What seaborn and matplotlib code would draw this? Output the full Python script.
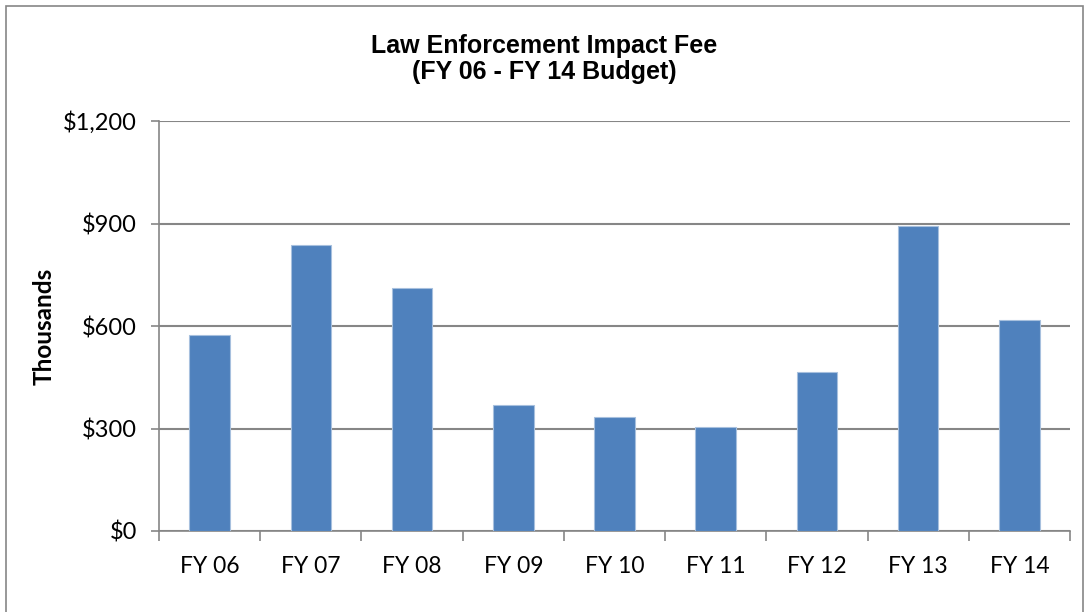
import numpy as np
import pandas as pd
import matplotlib.pyplot as plt
import seaborn as sns
from matplotlib.ticker import FixedLocator, FuncFormatter
from matplotlib.patches import Rectangle

years = ["FY 06", "FY 07", "FY 08", "FY 09", "FY 10", "FY 11", "FY 12", "FY 13", "FY 14"]
fees = [574, 837, 710, 369, 333, 304, 465, 893, 617]
y_ticks = [0, 300, 600, 900, 1200]

df = pd.DataFrame({"year": years, "fee": fees})

sns.set_style("white")
plt.rcParams['font.family'] = ['Lato', 'DejaVu Sans']
plt.rcParams['text.color'] = 'black'
plt.rcParams['xtick.labelcolor'] = 'black'
plt.rcParams['ytick.labelcolor'] = 'black'
plt.rcParams['axes.labelcolor'] = 'black'

fig = plt.figure(figsize=(10.88, 6.12), dpi=100)
ax = fig.add_axes([159 / 1088, 1 - 531 / 612, (1070 - 159) / 1088, (531 - 121) / 612])

sns.barplot(data=df, x="year", y="fee", color="#4F81BD", saturation=1,
            width=0.4, ax=ax, zorder=3, edgecolor="#A7C0DE", linewidth=0.8)

ax.set_ylim(0, 1200)
ax.set_xlim(-0.5, len(years) - 0.5)
ax.yaxis.set_major_locator(FixedLocator(y_ticks))
ax.yaxis.set_major_formatter(FuncFormatter(lambda v, p: "${:,.0f}".format(v)))
ax.grid(axis="y", color="#868686", linewidth=1.5, zorder=0)

for s in ["top", "right"]:
    ax.spines[s].set_visible(False)
for s in ["left", "bottom"]:
    ax.spines[s].set_color("#868686")
    ax.spines[s].set_linewidth(1.2)

ax.tick_params(axis="y", direction="out", length=6, color="#868686", width=1.2,
               labelsize=17, pad=10, left=True)
ax.tick_params(axis="x", which="major", length=0, labelsize=16.5, pad=18)
ax.set_xticks(np.arange(-0.5, len(years)), minor=True)
ax.tick_params(axis="x", which="minor", direction="out", length=7, color="#868686",
               width=1.2, bottom=True)

ax.set_xlabel("")
ax.set_ylabel("Thousands", fontsize=17.5, fontweight="bold", labelpad=5)

fig.text(544 / 1088, 1 - 59 / 612, "Law Enforcement Impact Fee\n(FY 06 - FY 14 Budget)",
         ha="center", va="center", fontsize=18, fontweight="bold", color="black",
         family=["Liberation Sans", "DejaVu Sans"], linespacing=1.15)

fig.patches.append(Rectangle((6 / 1088, -0.01), 1077 / 1088, 1 - 6 / 612 + 0.01,
                             transform=fig.transFigure, fill=False,
                             edgecolor="#868686", linewidth=1.2))

fig.savefig("out.png", dpi=100)
